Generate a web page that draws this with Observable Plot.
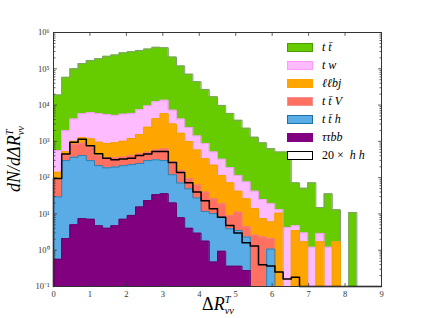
<!DOCTYPE html>
<html><head><meta charset="utf-8">
<script src="https://cdn.jsdelivr.net/npm/d3@7"></script>
<script src="https://cdn.jsdelivr.net/npm/@observablehq/plot@0.6"></script>
<style>
body{margin:0;background:#fff;}
#wrap{position:relative;width:424px;height:318px;overflow:hidden;}
.lab{position:absolute;font-family:"Liberation Serif",serif;font-style:italic;color:#000;white-space:nowrap;line-height:1;}
.ss{display:inline-block;vertical-align:-0.42em;line-height:1.05;font-size:0.58em;text-align:left;}
.ss span{display:block;}
.leg{position:absolute;left:287px;width:26px;height:9px;box-sizing:border-box;border:1px solid;}
.legt{position:absolute;left:322px;font-family:"Liberation Serif",serif;font-style:italic;font-size:12px;line-height:1;white-space:nowrap;}
.up{font-style:normal;}
</style></head><body><div id="wrap"></div>
<script>
// ---- histogram binning (x axis ΔR, 40 bins from 0 to 9) ----
const binStart = 0;
const binWidth = 0.225;
const FLOOR = 0.1;

// ---- stacked (cumulative) bin heights, 0 = empty bin ----
const tt = [1.9e4,5.8e4,1.0e5,1.4e5,1.7e5,1.9e5,2.2e5,2.4e5,2.75e5,2.95e5,3.2e5,3.5e5,3.9e5,3.8e5,2.1e5,1.2e5,7.1e4,4.4e4,2.7e4,1.7e4,9.8e3,5.9e3,3.8e3,2.3e3,1.3e3,910,630,510,510,72,51,72,15,36,13,0,11,0,0,0];
const tw = [560,1950,4100,5800,6200,5800,5500,5200,5600,5900,7400,9500,1.23e4,1.35e4,7200,4100,2400,1400,870,510,320,190,115,76,42,25,19,13,4.2,4.7,3.0,1.2,2.9,1.2,1.7,0,0,0,0,0];
const llbj = [140,520,1000,1260,1170,950,870,910,1000,1200,1550,2450,4200,5800,3000,1660,980,575,330,220,115,72,42,26,14,7.4,6.0,10.5,0,3.5,1.7,0,1.7,0,1.7,0,0,0,0,0];
const ttV = [87,420,830,890,690,410,360,360,370,410,450,500,575,620,275,158,93,62,40,26,19,9.1,11.2,4.4,2.6,2.3,2.1,0,0,0,0,0,0,0,0,0,0,0,0,0];
const tth = [29.5,295,363,407,295,214,186,195,214,229,245,295,309,295,120,71,49,27.5,11.7,10.2,8.1,3.9,3.5,2.3,0,0,1.07,0,0,0,0,0,0,0,0,0,0,0,0,0];
const ttbb = [0.56,2.1,5.0,7.4,7.1,4.7,4.0,4.7,7.1,9.1,15.5,23.4,34,36,20,7.8,4.0,2.95,1.78,0.47,0.93,0.36,0.36,0.275,0,0,0,0,0,0,0,0,0,0,0,0,0,0,0,0];
const hh20 = [95,450,950,1150,760,457,340,310,324,340,410,450,525,525,263,138,72,40,23,13.8,8.1,4.8,3.0,1.6,1.3,0.4,0.37,0.25,0.16,0.18,0,0,0,0,0,0,0,0,0,0];

const seriesNames = ["t t\u0304","t w","\u2113\u2113bj","t t\u0304 V","t t\u0304 h","\u03c4\u03c4bb"];
const fills  = ["#66cc00","#ffbbff","#ffa500","#ff7060","#5aace6","#800080"];
const edges  = ["#7f9f70","#f2a0f2","#f0a000","#f08080","#2f80b0","#6a006a"];
const layers = [tt,tw,llbj,ttV,tth,ttbb];

const xTicks = [0,1,2,3,4,5,6,7,8,9];
const yMajor = [1e-1,1e0,1e1,1e2,1e3,1e4,1e5,1e6];
const yMinor = yMajor.slice(0,-1).flatMap(d => [2,3,4,5,6,7,8,9].map(m => m*d));

function stepPoints(vals){
  const pts = [{x: binStart, y: FLOOR}];
  vals.forEach((v,i) => {
    const y = v > 0 ? v : FLOOR;
    pts.push({x: binStart + i*binWidth, y}, {x: binStart + (i+1)*binWidth, y});
  });
  pts.push({x: binStart + vals.length*binWidth, y: FLOOR});
  return pts;
}

const tickShape = {draw(ctx, l){ ctx.moveTo(0,0); ctx.lineTo(0,-l); }};
function ticks(data, axis, len){
  const o = {length: len, anchor: "start", stroke: "#333", strokeWidth: 0.8, shape: tickShape};
  if (axis === "b") return Plot.vector(data, {...o, x: d=>d, y: FLOOR, rotate: 0});
  if (axis === "t") return Plot.vector(data, {...o, x: d=>d, y: 1e6, rotate: 180});
  if (axis === "l") return Plot.vector(data, {...o, x: 0, y: d=>d, rotate: 90});
  return Plot.vector(data, {...o, x: 9, y: d=>d, rotate: 270});
}

const sup = {"-":"\u207b","0":"\u2070","1":"\u00b9","2":"\u00b2","3":"\u00b3","4":"\u2074","5":"\u2075","6":"\u2076","7":"\u2077","8":"\u2078","9":"\u2079"};
const fmtPow = d => "10" + String(Math.round(Math.log10(d))).split("").map(c => sup[c]).join("");

const marks = [];
layers.forEach((vals,k) => {
  const pts = stepPoints(vals);
  marks.push(Plot.areaY(pts, {x:"x", y1: FLOOR, y2:"y", fill: fills[k]}));
  marks.push(Plot.line(pts, {x:"x", y:"y", stroke: edges[k], strokeWidth: 1}));
});
marks.push(Plot.line(stepPoints(hh20), {x:"x", y:"y", stroke:"#000", strokeWidth: 1.5}));
marks.push(Plot.frame({stroke:"#333", strokeWidth: 1}));
marks.push(ticks(xTicks,"b",3), ticks(xTicks,"t",3));
marks.push(ticks(yMajor,"l",3), ticks(yMajor,"r",3), ticks(yMinor,"l",1.6), ticks(yMinor,"r",1.6));
marks.push(Plot.axisX({ticks: xTicks, tickSize: 0, tickPadding: 4, tickFormat: d => String(d), label: null}));
marks.push(Plot.axisY({ticks: yMajor, tickSize: 0, tickPadding: 4, tickFormat: fmtPow, label: null}));

const chart = Plot.plot({
  width: 424, height: 318,
  marginLeft: 53, marginRight: 43, marginTop: 32, marginBottom: 32,
  x: {domain: [0, 9]},
  y: {type: "log", domain: [FLOOR, 1e6]},
  style: {fontFamily: "'Liberation Serif', serif", fontSize: "8.5px", color: "#333", background: "#fff"},
  marks
});
const wrap = document.getElementById("wrap");
wrap.appendChild(chart);

// axis labels
const ylab = document.createElement("div");
ylab.className = "lab";
ylab.style.fontSize = "18px";
ylab.innerHTML = 'dN/d\u0394R<span class="ss"><span>T</span><span>\u03bd\u03bd</span></span>';
ylab.style.left = "16px"; ylab.style.top = "159px";
ylab.style.transform = "translate(-50%,-50%) rotate(-90deg)";
wrap.appendChild(ylab);

const xlab = document.createElement("div");
xlab.className = "lab";
xlab.style.fontSize = "18px";
xlab.innerHTML = '<span class="up">\u0394</span>R<span class="ss"><span>T</span><span>\u03bd\u03bd</span></span>';
xlab.style.left = "218px"; xlab.style.top = "306px";
xlab.style.transform = "translate(-50%,-50%)";
wrap.appendChild(xlab);

// legend
const legCenters = [47.7,65.7,83.3,101.7,119,137,155];
const legFills = [...fills, "#fff"];
const legEdges = ["#4a9a00","#ff99ff","#ffa500","#f59090","#2070a8","#800080","#000"];
const legLabels = [...seriesNames, null];
legCenters.forEach((cy,i) => {
  const s = document.createElement("div");
  s.className = "leg";
  s.style.top = (cy - 4.5) + "px";
  s.style.background = legFills[i];
  s.style.borderColor = legEdges[i];
  if (i === 6) s.style.borderWidth = "1.5px";
  wrap.appendChild(s);
  const t = document.createElement("div");
  t.className = "legt";
  t.style.top = (cy - 6.5) + "px";
  if (legLabels[i]) t.textContent = legLabels[i];
  else t.innerHTML = '<span class="up">20 \u00d7</span>&nbsp; h h';
  wrap.appendChild(t);
});
</script>
</body></html>
